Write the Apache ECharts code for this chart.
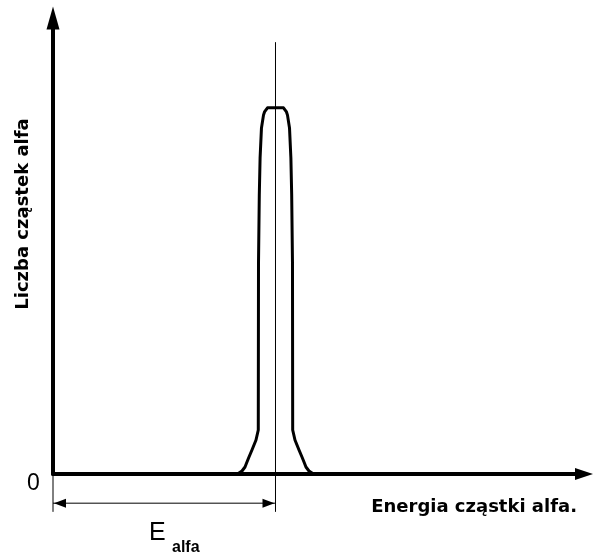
<!DOCTYPE html>
<html>
<head>
<meta charset="utf-8">
<script src="https://cdn.jsdelivr.net/npm/echarts@6/dist/echarts.min.js"></script>
<style>
  html, body { margin: 0; padding: 0; background: #ffffff; }
  #chart { width: 596px; height: 557px; }
</style>
</head>
<body>
<div id="chart"></div>
<script>
// ---- Data (arbitrary units) ----
var energy = [34.74, 35.59, 36.16, 36.53, 36.91, 37.47, 38.23, 38.66, 38.7, 38.85, 39.0, 39.26, 39.64, 39.83, 40.39,
              43.41, 43.97, 44.16, 44.54, 44.8, 44.95, 45.1, 45.14, 45.57, 46.33, 46.89, 47.27, 47.64, 48.21, 49.06];
var counts = [0, 0.66, 1.54, 2.63, 3.73, 5.26, 7.46, 9.65, 46.3, 61.2, 69.3, 75.9, 78.7, 79.4, 80.3,
              80.3, 79.4, 78.7, 75.9, 69.3, 61.2, 46.3, 9.65, 7.46, 5.26, 3.73, 2.63, 1.54, 0.66, 0];
var peakEnergy = [41.9];
var xLabelText = 'Energia cząstki alfa.';
var yLabelText = 'Liczba cząstek alfa';
var zeroLabel = '0';
var eSymbol = 'E';
var eSubscript = 'alfa';

var curve = energy.map(function (e, i) { return [e, counts[i]]; });

var chart = echarts.init(document.getElementById('chart'), null, { renderer: 'canvas' });

function renderAnnotations(params, api) {
  var E = api.value(0);
  var top = api.coord([E, 94.7]);
  var bot = api.coord([E, -8.3]);
  var o0 = api.coord([0, 0]);
  var o1 = api.coord([0, -8.3]);
  var dL = api.coord([0, -6.4]);
  var dR = api.coord([E, -6.4]);
  var len = 13, hw = 4.5;
  var thin = { stroke: '#000', lineWidth: 1 };
  return {
    type: 'group',
    children: [
      { type: 'line', shape: { x1: top[0], y1: top[1], x2: bot[0], y2: bot[1] }, style: thin },
      { type: 'line', shape: { x1: o0[0], y1: o0[1], x2: o1[0], y2: o1[1] }, style: thin },
      { type: 'line', shape: { x1: dL[0], y1: dL[1], x2: dR[0], y2: dR[1] }, style: thin },
      { type: 'polygon', shape: { points: [[dL[0] + 1, dL[1]], [dL[0] + len, dL[1] - hw], [dL[0] + len, dL[1] + hw]] }, style: { fill: '#000' } },
      { type: 'polygon', shape: { points: [[dR[0] - 1, dR[1]], [dR[0] - len, dR[1] - hw], [dR[0] - len, dR[1] + hw]] }, style: { fill: '#000' } }
    ]
  };
}

var option = {
  backgroundColor: '#ffffff',
  animation: false,
  grid: { left: 53, right: 12, top: 18, bottom: 83, containLabel: false },
  xAxis: {
    type: 'value', min: 0, max: 100,
    axisLine: { show: true, onZero: false, symbol: ['none', 'triangle'], symbolSize: [12, 18],
                lineStyle: { color: '#000', width: 4 } },
    axisTick: { show: false }, axisLabel: { show: false }, splitLine: { show: false }
  },
  yAxis: {
    type: 'value', min: 0, max: 100,
    axisLine: { show: true, onZero: false, symbol: ['none', 'triangle'], symbolSize: [13, 23],
                lineStyle: { color: '#000', width: 4 } },
    axisTick: { show: false }, axisLabel: { show: false }, splitLine: { show: false }
  },
  series: [
    {
      type: 'line', data: curve, symbol: 'none', clip: false, z: 3,
      lineStyle: { color: '#000', width: 3, join: 'round', cap: 'round' }
    },
    {
      type: 'custom', data: peakEnergy.map(function (e) { return [e]; }), clip: false, z: 4,
      renderItem: renderAnnotations, silent: true
    }
  ],
  graphic: [
    { type: 'text', x: 23, y: 214, rotation: Math.PI / 2,
      style: { text: yLabelText, font: 'bold 18px "DejaVu Sans"', fill: '#000', align: 'center', verticalAlign: 'middle' } },
    { type: 'text', x: 577, y: 507,
      style: { text: xLabelText, font: 'bold 18px "DejaVu Sans"', fill: '#000', align: 'right', verticalAlign: 'middle' } },
    { type: 'text', x: 33.5, y: 484,
      style: { text: zeroLabel, font: '23px "Liberation Sans"', fill: '#000', align: 'center', verticalAlign: 'middle' } },
    { type: 'text', x: 149, y: 533,
      style: { text: eSymbol, font: '25px "Liberation Sans"', fill: '#000', align: 'left', verticalAlign: 'middle' } },
    { type: 'text', x: 172, y: 548,
      style: { text: eSubscript, font: 'bold 16px "Liberation Sans"', fill: '#000', align: 'left', verticalAlign: 'middle' } }
  ]
};
chart.setOption(option);
</script>
</body>
</html>
